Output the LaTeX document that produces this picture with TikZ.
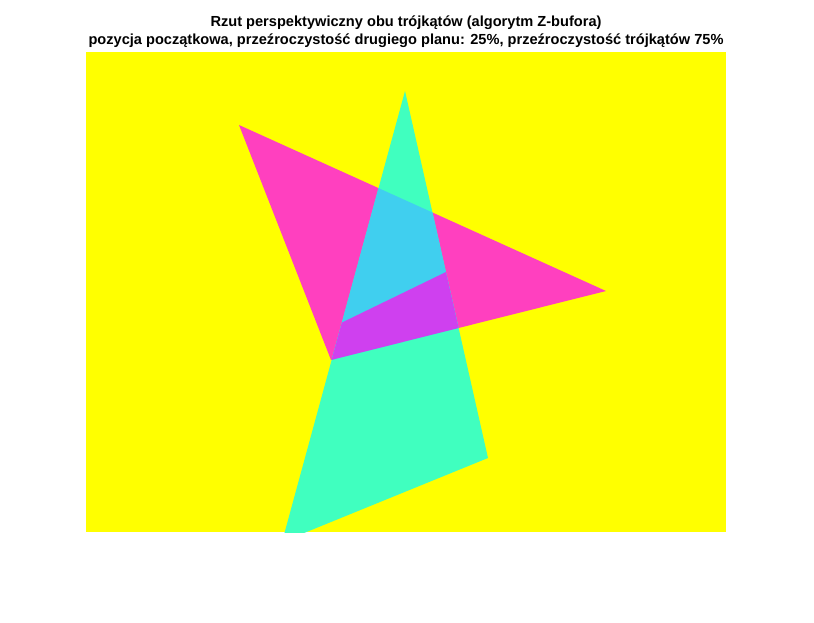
\documentclass[tikz,border=0pt]{standalone}
\usepackage{fontspec}
\setmainfont{Liberation Sans}
\usepackage{xcolor}
\usepackage{tikz}
\usetikzlibrary{positioning,calc}

\definecolor{tlo}{RGB}{255,255,0}
\definecolor{rozowy}{RGB}{255,64,191}
\definecolor{zielony}{RGB}{64,255,191}
\definecolor{blekit}{RGB}{64,207,239}
\definecolor{fiolet}{RGB}{207,64,239}

\begin{document}
\begin{tikzpicture}[x=1pt,y=-1pt]
		\useasboundingbox (0,0) rectangle (814,623);

		% osie
		\coordinate (O1) at (86,52);
		\coordinate (O2) at (726,532);

		% trojkat 1
		\coordinate (A) at (239,125);
		\coordinate (B) at (606,291);
		\coordinate (C) at (331,360);

		% trojkat 2
		\coordinate (P) at (405,91);
		\coordinate (Q) at (488,458);
		\coordinate (R) at (282,542);

		% linia przeciecia
		\coordinate (L1) at (200,391.5);
		\coordinate (L2) at (700,148.6);

		\fill[tlo] (O1) rectangle (O2);

		\begin{scope}
			\clip (O1) rectangle (O2);
			\fill[rozowy] (A) -- (B) -- (C) -- cycle;
			\fill[zielony] (P) -- (Q) -- (R) -- cycle;
			\clip (A) -- (B) -- (C) -- cycle;
			\clip (P) -- (Q) -- (R) -- cycle;
			\fill[blekit] (O1) rectangle (O2);
			\fill[fiolet] (L1) -- (L2) -- (700,700) -- (200,700) -- cycle;
		\end{scope}

		\node[font=\bfseries\fontsize{14.6}{18}\selectfont, align=center, anchor=base] (tytul) at (406,27) {Rzut perspektywiczny obu trójkątów (algorytm Z-bufora)};
		\node[font=\bfseries\fontsize{14.6}{18}\selectfont, align=center, anchor=base] (podtytul) at (406,45) {pozycja początkowa, przeźroczystość drugiego planu: 25\%, przeźroczystość trójkątów 75\%};
	\end{tikzpicture}
\end{document}
